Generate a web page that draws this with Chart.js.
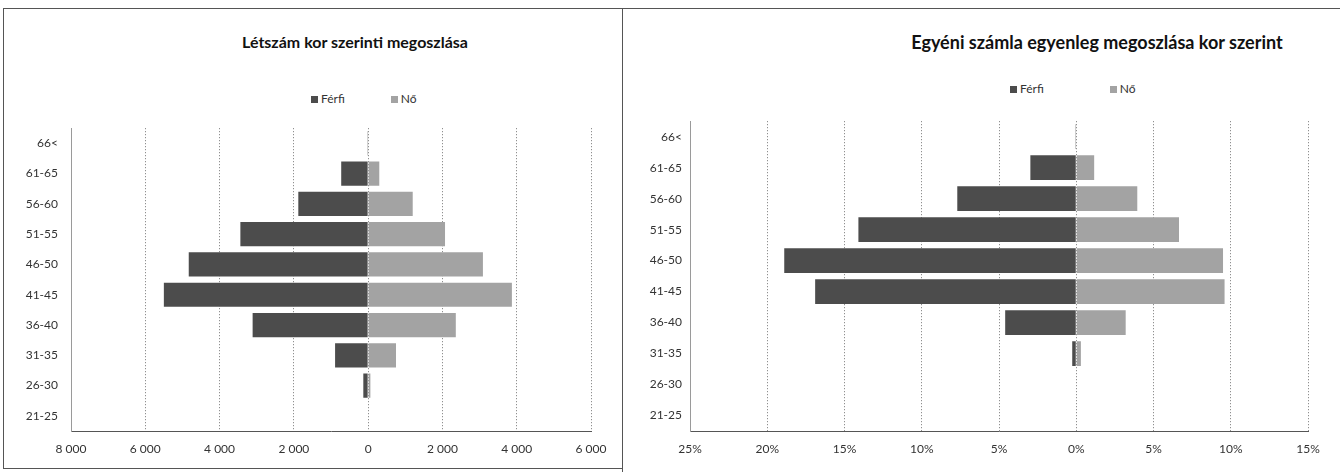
<!DOCTYPE html>
<html>
<head>
<meta charset="utf-8">
<script src="https://cdn.jsdelivr.net/npm/chart.js@4/dist/chart.umd.min.js"></script>
<style>
  body { margin: 0; background: #fff; font-family: Lato, "Liberation Sans", sans-serif; color: #222; overflow: hidden; }
  .panel { position: absolute; border: 1px solid #555; box-sizing: border-box; }
  .title { position: absolute; text-align: center; font-weight: bold; line-height: 24px; color: #111; }
  .legend { position: absolute; font-size: 12px; line-height: 14px; color: #333; white-space: nowrap; }
  .legend span { display: inline-block; }
  .legend i { display: inline-block; width: 7px; height: 7px; margin-right: 3px; vertical-align: 0px; }
  .box { position: absolute; }
</style>
</head>
<body>
<div class="panel" style="left:3px;top:8px;width:620px;height:461px"></div>
<div class="panel" style="left:622px;top:8px;width:730px;height:480px"></div>

<div class="title" style="left:155px;top:30px;width:400px;font-size:16px">Létszám kor szerinti megoszlása</div>
<div class="legend" style="left:311px;top:92px">
  <span><i style="background:#4c4c4c"></i>Férfi</span><span style="width:46px"></span><span><i style="background:#a3a3a3"></i>Nő</span>
</div>

<div class="title" style="left:897px;top:30px;width:400px;font-size:18px">Egyéni számla egyenleg megoszlása kor szerint</div>
<div class="legend" style="left:1010px;top:82px">
  <span><i style="background:#4c4c4c"></i>Férfi</span><span style="width:66px"></span><span><i style="background:#a3a3a3"></i>Nő</span>
</div>

<div class="box" style="left:3px;top:108px;width:619px;height:360px"><canvas id="countChart"></canvas></div>
<div class="box" style="left:625px;top:106px;width:713px;height:362px"><canvas id="balanceChart"></canvas></div>

<script>
//age groups, top to bottom
const ageGroups = ['66<', '61-65', '56-60', '51-55', '46-50', '41-45', '36-40', '31-35', '26-30', '21-25']

//headcount per age group
const countMale = [20, 725, 1880, 3440, 4830, 5500, 3110, 890, 130, 0]
const countFemale = [15, 300, 1200, 2070, 3090, 3870, 2360, 750, 60, 0]

//share of individual account balance, %
const balanceMale = [0.05, 2.97, 7.7, 14.1, 18.9, 16.9, 4.6, 0.26, 0, 0]
const balanceFemale = [0.03, 1.16, 3.95, 6.65, 9.5, 9.6, 3.2, 0.3, 0, 0]

//axis range
const countTicks = {min: -8000, max: 6000, step: 2000}
const balanceTicks = {min: -25, max: 15, step: 5}

const maleColor = '#4c4c4c'
const femaleColor = '#a3a3a3'
const tickFont = {family: 'Lato', size: 12}

//thousand separator with a space, like the original
const fmtCount = v => Math.abs(v).toString().replace(/\B(?=(\d{3})+(?!\d))/g, ' ')
const fmtPct = v => Math.abs(v) + '%'

function pyramid(canvasId, male, female, range, fmt, yWidth, yPad, padRight, padTop) {
    return new Chart(document.getElementById(canvasId), {
        type: 'bar',
        data: {
            labels: ageGroups,
            datasets: [
                //men drawn to the left
                {label: 'Férfi', data: male.map(v => -v), backgroundColor: maleColor},
                {label: 'Nő', data: female, backgroundColor: femaleColor}
            ]
        },
        options: {
            indexAxis: 'y',
            responsive: true,
            maintainAspectRatio: false,
            animation: false,
            barPercentage: 0.8,
            categoryPercentage: 1,
            layout: {padding: {left: 0, right: padRight, top: padTop, bottom: 0}},
            plugins: {
                legend: {display: false},
                tooltip: {enabled: false}
            },
            scales: {
                x: {
                    stacked: true,
                    min: range.min,
                    max: range.max,
                    ticks: {stepSize: range.step, callback: fmt, color: '#333', font: tickFont, padding: 11, maxRotation: 0},
                    grid: {color: '#777', drawTicks: false},
                    //in v4 border.dash styles the grid lines
                    border: {display: true, color: '#555', dash: [1, 2]},
                    afterFit: s => { s.height = 37 }
                },
                y: {
                    stacked: true,
                    ticks: {color: '#333', font: tickFont, padding: yPad},
                    grid: {display: false, drawTicks: false},
                    border: {display: true, color: '#9a9a9a'},
                    afterFit: s => { s.width = yWidth }
                }
            }
        }
    })
}

pyramid('countChart', countMale, countFemale, countTicks, fmtCount, 68, 13, 31, 7)
pyramid('balanceChart', balanceMale, balanceFemale, balanceTicks, fmtPct, 65, 8, 30, 10)
</script>
</body>
</html>
